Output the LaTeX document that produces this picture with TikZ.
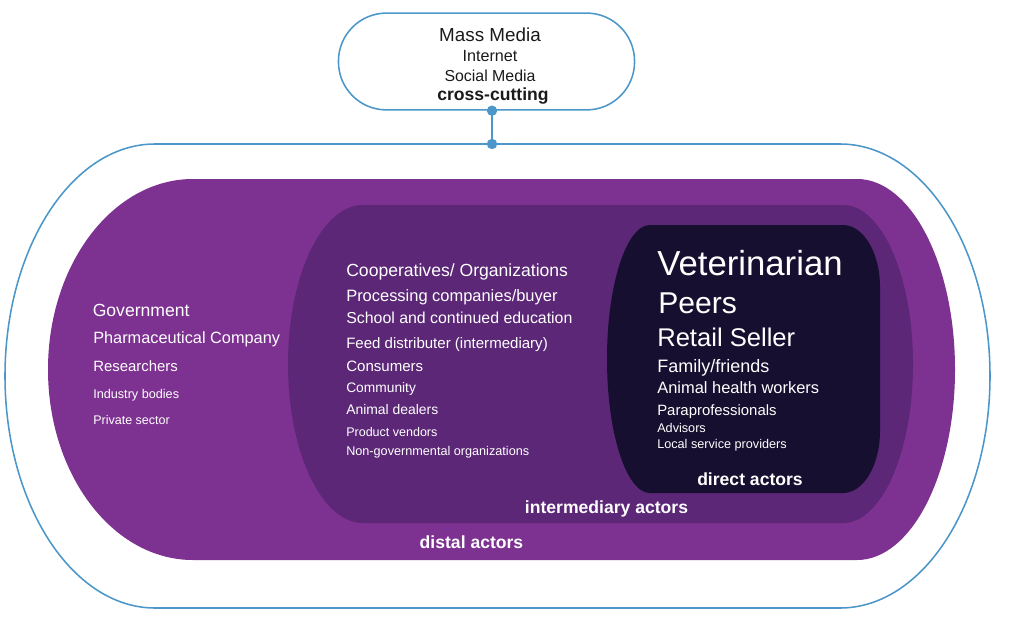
\documentclass[tikz,border=0pt]{standalone}
\usepackage{fontspec}
\setmainfont{Liberation Sans}
\usepackage{tikz}
\usetikzlibrary{positioning}
\definecolor{ringblue}{HTML}{4B97C9}
\definecolor{distalpurple}{HTML}{7D3190}
\definecolor{interpurple}{HTML}{5B2776}
\definecolor{directnavy}{HTML}{160F30}
\definecolor{inkgray}{HTML}{1A1A1A}
\newcommand{\fsz}[1]{\fontsize{#1}{#1}\selectfont}

\begin{document}
\begin{tikzpicture}[x=0.025cm,y=0.025cm,
  ring/.style={draw=ringblue,line width=1.1pt},
  item/.style={anchor=base west,inner sep=0pt,text=white},
  pilltext/.style={anchor=base,inner sep=0pt,text=inkgray},
  tag/.style={anchor=base,inner sep=0pt,text=white,font=\bfseries\fsz{12.5}},
  tap/.style={circle,fill=ringblue,inner sep=0pt,minimum size=2.6mm}]
  \useasboundingbox (0,0) rectangle (1024,641);
  % nested actor shapes
  \draw[ring,fill=white] (155,497) -- (840,497)
    arc[start angle=90,end angle=-90,x radius=150,y radius=232] -- (155,33)
    arc[start angle=270,end angle=90,x radius=150,y radius=232] -- cycle;
  \fill[distalpurple] (193,462) -- (857,462)
    arc[start angle=90,end angle=-90,x radius=98,y radius=190.5] -- (193,81)
    arc[start angle=270,end angle=90,x radius=145,y radius=190.5] -- cycle;
  \fill[interpurple] (363,436) -- (843,436)
    arc[start angle=90,end angle=-90,x radius=70,y radius=159] -- (363,118)
    arc[start angle=270,end angle=90,x radius=75,y radius=159] -- cycle;
  \fill[directnavy] (650,416) -- (843,416)
    arc[start angle=90,end angle=0,x radius=37,y radius=62] -- (880,210)
    arc[start angle=0,end angle=-90,x radius=37,y radius=62] -- (650,148)
    arc[start angle=270,end angle=90,x radius=43,y radius=134] -- cycle;
  % cross-cutting box
  \node[ring,rectangle,rounded corners=1.2cm,minimum width=7.4cm,
    minimum height=2.42cm,inner sep=0pt] (media) at (486.5,579.5) {};
  \node[pilltext,font=\fsz{13.4}] (massmedia) at (490,599.3) {Mass Media};
  \node[pilltext,font=\fsz{11.5}] (internet) at (490,579.3) {Internet};
  \node[pilltext,font=\fsz{11.3}] (social) at (490,560) {Social Media};
  \node[pilltext,font=\bfseries\fsz{12.5}] (crosscut) at (493,541) {cross-cutting};
  \coordinate (otop) at (492,497);
  \coordinate (mtap) at (media.south -| otop);
  \draw[ring] (mtap) -- (otop);
  \node[tap] (tapup) at (mtap) {};
  \node[tap] (tapdown) at (otop) {};
  % distal actors
  \node[item,font=\fsz{12.5}] (gov) at (92.5,325) {Government};
  \node[item,font=\fsz{11.6}] (pharma) at (93,298) {Pharmaceutical Company};
  \node[item,font=\fsz{10.6}] (research) at (93,270) {Researchers};
  \node[item,font=\fsz{9}] (industry) at (93,243) {Industry bodies};
  \node[item,font=\fsz{8.9}] (private) at (93,217) {Private sector};
  % intermediary actors
  \node[item,font=\fsz{12.5}] (coop) at (346,365) {Cooperatives/ Organizations};
  \node[item,font=\fsz{11.7}] (process) at (346,340) {Processing companies/buyer};
  \node[item,font=\fsz{11.3}] (school) at (346,318) {School and continued education};
  \node[item,font=\fsz{10.7}] (feed) at (346,293) {Feed distributer (intermediary)};
  \node[item,font=\fsz{10.7}] (consum) at (346,270) {Consumers};
  \node[item,font=\fsz{9.8}] (commun) at (346,249) {Community};
  \node[item,font=\fsz{9.9}] (dealers) at (346,227) {Animal dealers};
  \node[item,font=\fsz{8.9}] (vendors) at (346,205) {Product vendors};
  \node[item,font=\fsz{9}] (ngo) at (346,186) {Non-governmental organizations};
  % direct actors
  \node[item,font=\fsz{24.7}] (vet) at (657,366) {Veterinarian};
  \node[item,font=\fsz{21.4}] (peers) at (658,328) {Peers};
  \node[item,font=\fsz{18.2}] (retail) at (657,295) {Retail Seller};
  \node[item,font=\fsz{12.8}] (family) at (657,269) {Family/friends};
  \node[item,font=\fsz{11.7}] (ahw) at (657,248) {Animal health workers};
  \node[item,font=\fsz{10.6}] (para) at (657,226) {Paraprofessionals};
  \node[item,font=\fsz{9}] (advisors) at (657,209) {Advisors};
  \node[item,font=\fsz{9}] (local) at (657,193) {Local service providers};
  % ring labels
  \node[tag] (directlab) at (750,156) {direct actors};
  \node[tag] (interlab) at (606.5,128) {intermediary actors};
  \node[tag] (distallab) at (471.5,93) {distal actors};
\end{tikzpicture}
\end{document}
